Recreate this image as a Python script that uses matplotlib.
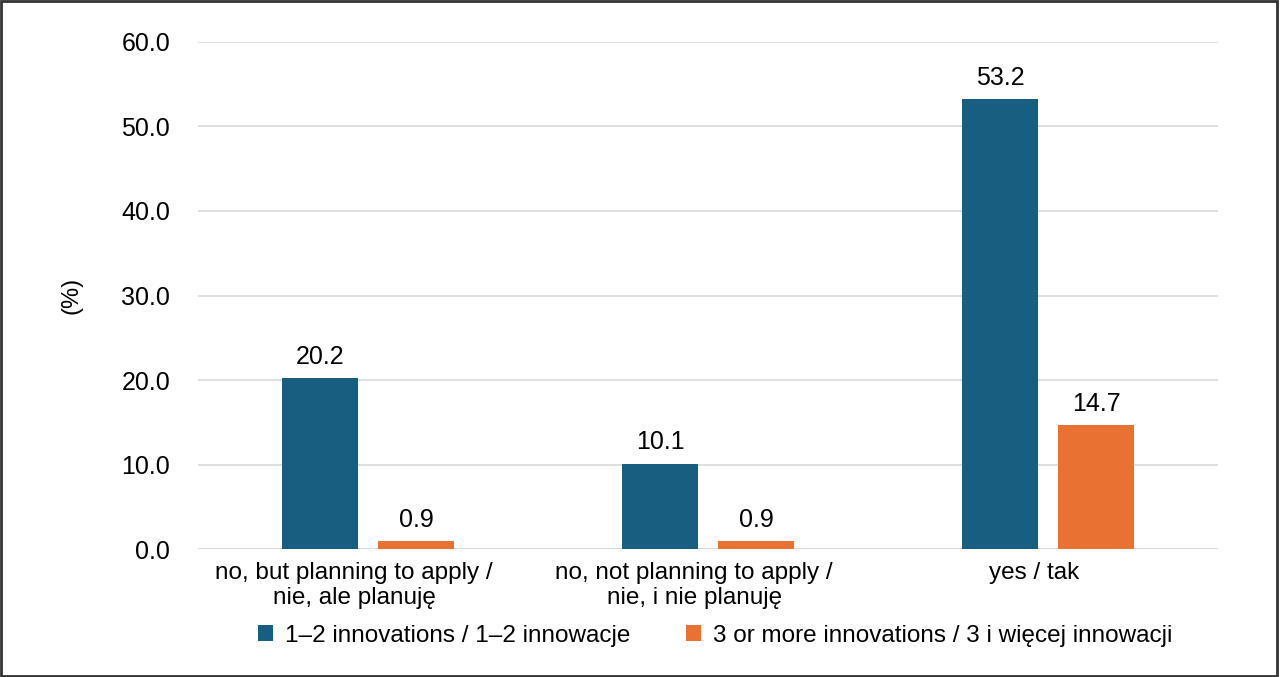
import matplotlib
matplotlib.use("Agg")
import matplotlib.pyplot as plt
import matplotlib.transforms as mtransforms
import numpy as np
from matplotlib.patches import Rectangle

categories = ["no, but planning to apply /\nnie, ale planuję",
              "no, not planning to apply /\nnie, i nie planuję",
              "yes / tak"]
series_names = ["1–2 innovations / 1–2 innowacje",
                "3 or more innovations / 3 i więcej innowacji"]
values_12 = [20.2, 10.1, 53.2]
values_3plus = [0.9, 0.9, 14.7]
yticks = [0, 10, 20, 30, 40, 50, 60]

colors = ["#175E81", "#E97132"]

plt.rcParams['font.family'] = ['Liberation Sans', 'DejaVu Sans']
FS = 18

fig = plt.figure(figsize=(12.8, 6.77), dpi=100)
ax = fig.add_axes([0.1547, 0.189, 0.797, 0.749])

x = np.arange(len(categories))
w = 0.2235
off = 0.141
b1 = ax.bar(x - off, values_12, w, color=colors[0], label=series_names[0], zorder=3)
b2 = ax.bar(x + off, values_3plus, w, color=colors[1], label=series_names[1], zorder=3)

for bars, vals in ((b1, values_12), (b2, values_3plus)):
    for r, v in zip(bars, vals):
        ax.text(r.get_x() + r.get_width() / 2, v + 1.1, f"{v:.1f}",
                ha="center", va="bottom", fontsize=FS, color="black")

ax.set_xlim(-0.5, 2.5)
ax.set_ylim(0, 60)
ax.set_yticks(yticks)
ax.set_yticklabels([f"{t:.1f}" for t in yticks], fontsize=FS)
ax.set_xticks(x)
ax.set_xticklabels(categories, fontsize=17.5, linespacing=1.2)
ax.tick_params(axis="both", length=0)
ax.tick_params(axis="y", pad=20)
ax.tick_params(axis="x", pad=9)
shift = mtransforms.ScaledTranslation(-10 / 72, 0, fig.dpi_scale_trans)
for lbl in ax.get_xticklabels():
    lbl.set_transform(lbl.get_transform() + shift)
ax.grid(axis="y", color="#d9d9d9", linewidth=1.2, zorder=0)
for s in ax.spines.values():
    s.set_visible(False)
ax.axhline(0, color="#d9d9d9", linewidth=1.2, zorder=2)

ax.set_ylabel("(%)", fontsize=17, labelpad=28)

fig.legend(handles=[b1, b2], labels=series_names, loc="center",
           bbox_to_anchor=(0.559, 0.061), ncol=2, frameon=False,
           fontsize=17.5, handlelength=0.6, handleheight=0.6,
           handletextpad=0.5, columnspacing=2.3)

fig.patches.append(Rectangle((0.001, 0.002), 0.997, 0.996, transform=fig.transFigure,
                             fill=False, edgecolor="#333333", linewidth=2))

fig.savefig("out.png", dpi=100)
